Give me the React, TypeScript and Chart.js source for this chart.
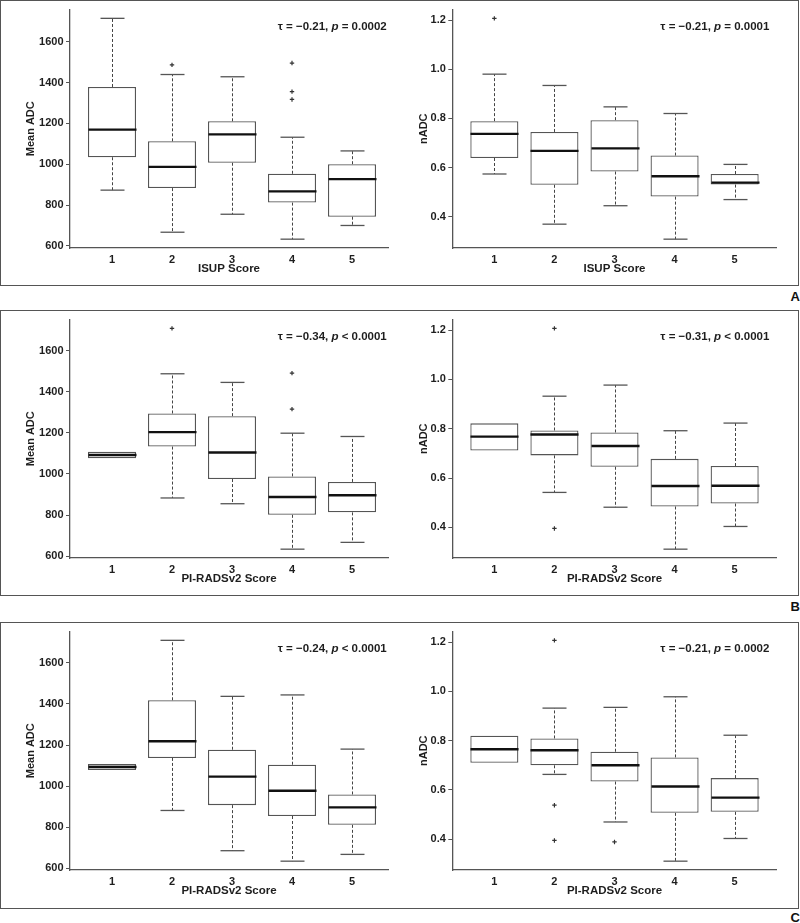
import React, { useEffect, useRef } from "react";
import { Chart, registerables } from "chart.js";

Chart.register(...registerables);

// ---------- shared categories / ticks ----------
const scores = [1, 2, 3, 4, 5];
const adcTicks = [600, 800, 1000, 1200, 1400, 1600];
const nadcTicks = [0.4, 0.6, 0.8, 1.0, 1.2];

// ---------- Panel A : ISUP score vs Mean ADC ----------
const aAdcLow = [873, 667, 755, 633, 700];
const aAdcQ1 = [1034, 883, 1007, 812, 743];
const aAdcMed = [1169, 987, 1146, 867, 927];
const aAdcQ3 = [1378, 1112, 1210, 953, 1000];
const aAdcHigh = [1714, 1439, 1428, 1132, 1065];
const aAdcOutX = [2, 4, 4, 4];
const aAdcOutY = [1486, 1495, 1355, 1317];
const aAdcNote = ["τ = −0.21, ", "p", " = 0.0002"];

// ---------- Panel A : ISUP score vs nADC ----------
const aNLow = [0.574, 0.37, 0.445, 0.309, 0.47];
const aNQ1 = [0.639, 0.53, 0.584, 0.482, 0.531];
const aNMed = [0.737, 0.668, 0.678, 0.565, 0.539];
const aNQ3 = [0.789, 0.745, 0.793, 0.649, 0.574];
const aNHigh = [0.98, 0.934, 0.847, 0.82, 0.613];
const aNOutX = [1];
const aNOutY = [1.207];
const aNNote = ["τ = −0.21, ", "p", " = 0.0001"];

// ---------- Panel B : PI-RADSv2 vs Mean ADC ----------
const bAdcLow = [1076, 883, 855, 634, 667];
const bAdcQ1 = [1076, 1133, 975, 801, 813];
const bAdcMed = [1092, 1203, 1104, 888, 896];
const bAdcQ3 = [1108, 1294, 1281, 988, 961];
const bAdcHigh = [1108, 1487, 1445, 1198, 1182];
const bAdcOutX = [2, 4, 4];
const bAdcOutY = [1708, 1490, 1315];
const bAdcNote = ["τ = −0.34, ", "p", " < 0.0001"];

// ---------- Panel B : PI-RADSv2 vs nADC ----------
const bNLow = [0.712, 0.542, 0.482, 0.312, 0.404];
const bNQ1 = [0.712, 0.692, 0.646, 0.485, 0.497];
const bNMed = [0.768, 0.777, 0.73, 0.568, 0.569];
const bNQ3 = [0.822, 0.793, 0.785, 0.678, 0.649];
const bNHigh = [0.822, 0.932, 0.977, 0.792, 0.823];
const bNOutX = [2, 2];
const bNOutY = [1.207, 0.396];
const bNNote = ["τ = −0.31, ", "p", " < 0.0001"];

// ---------- Panel C : PI-RADSv2 vs Mean ADC ----------
const cAdcLow = [1078, 881, 685, 634, 667];
const cAdcQ1 = [1078, 1137, 907, 854, 811];
const cAdcMed = [1093, 1218, 1046, 977, 896];
const cAdcQ3 = [1107, 1418, 1177, 1104, 959];
const cAdcHigh = [1107, 1710, 1437, 1444, 1180];
const cAdcOutX: number[] = [];
const cAdcOutY: number[] = [];
const cAdcNote = ["τ = −0.24, ", "p", " < 0.0001"];

// ---------- Panel C : PI-RADSv2 vs nADC ----------
const cNLow = [0.71, 0.663, 0.47, 0.311, 0.403];
const cNQ1 = [0.71, 0.7, 0.634, 0.507, 0.511];
const cNMed = [0.765, 0.761, 0.7, 0.614, 0.569];
const cNQ3 = [0.82, 0.809, 0.755, 0.732, 0.648];
const cNHigh = [0.82, 0.932, 0.935, 0.978, 0.822];
const cNOutX = [2, 2, 2, 3];
const cNOutY = [1.207, 0.538, 0.395, 0.389];
const cNNote = ["τ = −0.21, ", "p", " = 0.0002"];

const FONT = "'Liberation Sans', Arial, Helvetica, sans-serif";
const NARROW = "'Liberation Sans Narrow', 'Arial Narrow', 'Liberation Sans', Arial, sans-serif";
const TEXT = "#1e1e1e";
const LINE = "#555555";

type Spec = {
  low: number[]; q1: number[]; med: number[]; q3: number[]; high: number[];
  outX: number[]; outY: number[];
  note: string[]; yTitle: string; xTitle: string; yTicks: number[];
  side: "left" | "right";
};

function boxPlugin(spec: Spec) {
  return {
    id: "boxExtras",
    afterDatasetsDraw(chart: any) {
      const { ctx, chartArea } = chart;
      const xs = chart.scales.x;
      const ys = chart.scales.y;
      ctx.save();
      scores.forEach((s, i) => {
        const cx = Math.round(xs.getPixelForValue(s)) + 0.5;
        const half = xs.getPixelForValue(s + 0.4) - xs.getPixelForValue(s);
        const capHalf = half / 2;
        const segs = [
          [spec.q3[i], spec.high[i]],
          [spec.q1[i], spec.low[i]],
        ];
        for (const [a, b] of segs) {
          if (Math.abs(a - b) < 1e-9) continue;
          const ya = ys.getPixelForValue(a);
          const yb = ys.getPixelForValue(b);
          ctx.setLineDash([3, 2]);
          ctx.strokeStyle = "#444";
          ctx.lineWidth = 1;
          ctx.beginPath();
          ctx.moveTo(cx, ya);
          ctx.lineTo(cx, yb);
          ctx.stroke();
          ctx.setLineDash([]);
          ctx.strokeStyle = LINE;
          ctx.lineWidth = 1.3;
          ctx.beginPath();
          ctx.moveTo(cx - capHalf, yb);
          ctx.lineTo(cx + capHalf, yb);
          ctx.stroke();
        }
        const ym = ys.getPixelForValue(spec.med[i]);
        ctx.strokeStyle = "#111";
        ctx.lineWidth = 2.4;
        ctx.beginPath();
        ctx.moveTo(cx - half, ym);
        ctx.lineTo(cx + half, ym);
        ctx.stroke();
      });
      // correlation note
      const parts = spec.note;
      const fonts = [
        `bold 11.5px ${FONT}`,
        `italic bold 11.5px ${FONT}`,
        `bold 11.5px ${FONT}`,
      ];
      let total = 0;
      const widths = parts.map((p, k) => {
        ctx.font = fonts[k];
        const w = ctx.measureText(p).width;
        total += w;
        return w;
      });
      let tx = xs.getPixelForValue(4.67) - total / 2;
      const ty = chartArea.top + 17;
      ctx.fillStyle = TEXT;
      ctx.textBaseline = "middle";
      ctx.textAlign = "left";
      parts.forEach((p, k) => {
        ctx.font = fonts[k];
        ctx.fillText(p, tx, ty);
        tx += widths[k];
      });
      ctx.restore();
    },
  };
}

function buildConfig(spec: Spec): any {
  const all = [...spec.low, ...spec.high, ...spec.outY];
  const lo = Math.min(...all);
  const hi = Math.max(...all);
  const ext = (hi - lo) * 0.04;
  const isLeft = spec.side === "left";
  const tickFont = { family: FONT, size: 11, weight: "bold" as const };
  return {
    type: "bar",
    data: {
      datasets: [
        {
          type: "bar",
          data: scores.map((s, i) => ({ x: s, y: [spec.q1[i], spec.q3[i]] })),
          backgroundColor: "#ffffff",
          borderColor: LINE,
          borderWidth: 1.3,
          borderSkipped: false,
          barPercentage: 0.8,
          categoryPercentage: 1,
        },
        {
          type: "scatter",
          data: spec.outX.map((x, i) => ({ x, y: spec.outY[i] })),
          pointStyle: "cross",
          pointRadius: 2.2,
          borderColor: "#333",
          backgroundColor: "#333",
          borderWidth: 1.2,
        },
      ],
    },
    options: {
      animation: false,
      responsive: false,
      events: [],
      layout: { padding: { left: 0, top: 9.5, right: isLeft ? 12 : 23.3, bottom: 0 } },
      plugins: { legend: { display: false }, tooltip: { enabled: false } },
      scales: {
        x: {
          type: "linear",
          min: 0.3,
          max: isLeft ? 5.6 : 5.7,
          offset: false,
          afterBuildTicks: (s: any) => {
            s.ticks = scores.map((v) => ({ value: v }));
          },
          afterFit: (s: any) => {
            s.height = 38;
          },
          grid: { display: false, drawTicks: false },
          border: { display: true, color: LINE, width: 1.3 },
          ticks: { padding: 5, font: tickFont, color: TEXT, callback: (v: any) => String(v) },
          title: {
            display: true,
            text: spec.xTitle,
            font: { family: FONT, size: 11.5, weight: "bold" },
            color: TEXT,
            padding: { top: 0, bottom: 10 },
          },
        },
        y: {
          type: "linear",
          min: lo - ext,
          max: hi + ext,
          afterBuildTicks: (s: any) => {
            s.ticks = spec.yTicks.map((v) => ({ value: v }));
          },
          afterFit: (s: any) => {
            s.width = isLeft ? 70 : 52.3;
          },
          grid: { display: true, drawOnChartArea: false, drawTicks: true, tickLength: 4, color: LINE },
          border: { display: true, color: LINE, width: 1.3 },
          ticks: {
            padding: 2.5,
            font: tickFont,
            color: TEXT,
            callback: (v: any) => (isLeft ? String(v) : Number(v).toFixed(1)),
          },
          title: {
            display: true,
            text: spec.yTitle,
            font: { family: NARROW, size: 11, weight: "bold" },
            color: TEXT,
            padding: { top: isLeft ? 24.4 : 17.4, bottom: 0 },
          },
        },
      },
    },
    plugins: [boxPlugin(spec)],
  };
}

function BoxChart({ spec, left, top }: { spec: Spec; left: number; top: number }) {
  const ref = useRef<HTMLCanvasElement>(null);
  useEffect(() => {
    const chart = new Chart(ref.current as HTMLCanvasElement, buildConfig(spec));
    return () => chart.destroy();
  }, [spec]);
  return (
    <canvas
      ref={ref}
      width={400}
      height={286}
      style={{ position: "absolute", left, top, width: 400, height: 286 }}
    />
  );
}

const specs: { spec: Spec; left: number; top: number }[] = [
  {
    left: 0, top: 0,
    spec: { low: aAdcLow, q1: aAdcQ1, med: aAdcMed, q3: aAdcQ3, high: aAdcHigh, outX: aAdcOutX, outY: aAdcOutY,
      note: aAdcNote, yTitle: "Mean ADC", xTitle: "ISUP Score", yTicks: adcTicks, side: "left" },
  },
  {
    left: 400, top: 0,
    spec: { low: aNLow, q1: aNQ1, med: aNMed, q3: aNQ3, high: aNHigh, outX: aNOutX, outY: aNOutY,
      note: aNNote, yTitle: "nADC", xTitle: "ISUP Score", yTicks: nadcTicks, side: "right" },
  },
  {
    left: 0, top: 310,
    spec: { low: bAdcLow, q1: bAdcQ1, med: bAdcMed, q3: bAdcQ3, high: bAdcHigh, outX: bAdcOutX, outY: bAdcOutY,
      note: bAdcNote, yTitle: "Mean ADC", xTitle: "PI-RADSv2 Score", yTicks: adcTicks, side: "left" },
  },
  {
    left: 400, top: 310,
    spec: { low: bNLow, q1: bNQ1, med: bNMed, q3: bNQ3, high: bNHigh, outX: bNOutX, outY: bNOutY,
      note: bNNote, yTitle: "nADC", xTitle: "PI-RADSv2 Score", yTicks: nadcTicks, side: "right" },
  },
  {
    left: 0, top: 622,
    spec: { low: cAdcLow, q1: cAdcQ1, med: cAdcMed, q3: cAdcQ3, high: cAdcHigh, outX: cAdcOutX, outY: cAdcOutY,
      note: cAdcNote, yTitle: "Mean ADC", xTitle: "PI-RADSv2 Score", yTicks: adcTicks, side: "left" },
  },
  {
    left: 400, top: 622,
    spec: { low: cNLow, q1: cNQ1, med: cNMed, q3: cNQ3, high: cNHigh, outX: cNOutX, outY: cNOutY,
      note: cNNote, yTitle: "nADC", xTitle: "PI-RADSv2 Score", yTicks: nadcTicks, side: "right" },
  },
];

const panels = [
  { top: 0, height: 286, label: "A", labelTop: 290 },
  { top: 310, height: 286, label: "B", labelTop: 600 },
  { top: 622, height: 287, label: "C", labelTop: 911 },
];

export default function App() {
  return (
    <div
      style={{
        position: "absolute",
        left: 0,
        top: 0,
        width: 800,
        height: 923,
        background: "#ffffff",
        overflow: "hidden",
      }}
    >
      {panels.map((p) => (
        <React.Fragment key={p.label}>
          <div
            style={{
              position: "absolute",
              left: 0,
              top: p.top,
              width: 799,
              height: p.height,
              boxSizing: "border-box",
              border: "1.5px solid #555",
            }}
          />
          <div
            style={{
              position: "absolute",
              left: 770,
              top: p.labelTop,
              width: 30,
              textAlign: "right",
              font: `bold 13px ${FONT}`,
              lineHeight: "13px",
              color: "#111",
            }}
          >
            {p.label}
          </div>
        </React.Fragment>
      ))}
      {specs.map((s, i) => (
        <BoxChart key={i} spec={s.spec} left={s.left} top={s.top} />
      ))}
    </div>
  );
}
